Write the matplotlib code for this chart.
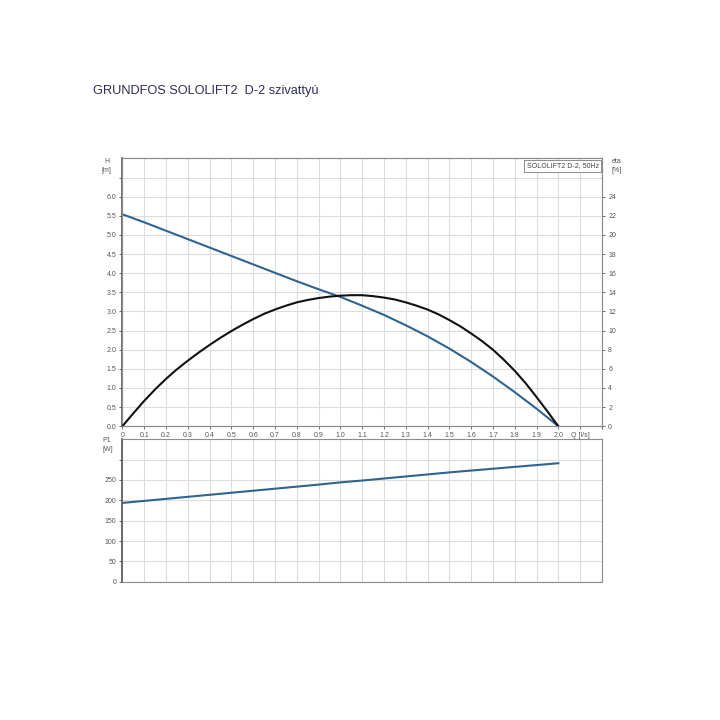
import numpy as np
import matplotlib
matplotlib.use('Agg')
from matplotlib import pyplot as plt

plt.rcParams['font.family'] = ['Liberation Sans', 'DejaVu Sans']

# Flow points [l/s]
q = [0.0, 0.1, 0.2, 0.3, 0.4, 0.5, 0.6, 0.7, 0.8, 0.9, 1.0,
     1.1, 1.2, 1.3, 1.4, 1.5, 1.6, 1.7, 1.8, 1.9, 2.0]
# Head [m]
head = [5.54, 5.33, 5.11, 4.89, 4.67, 4.45, 4.23, 4.01, 3.79, 3.58, 3.38,
        3.15, 2.91, 2.64, 2.35, 2.03, 1.68, 1.30, 0.89, 0.46, 0.0]
# Power input [W]
p1 = [193.6, 198.5, 203.5, 208.5, 213.5, 218.5, 223.5, 228.5, 233.5, 238.5, 244.0,
      248.5, 253.5, 258.5, 263.5, 268.5, 273.0, 277.5, 282.0, 286.5, 291.0]

# Efficiency curve, read at a finer step [l/s] / [%]
q_eta = [0.0, 0.05, 0.1, 0.15, 0.2, 0.25, 0.3, 0.35, 0.4, 0.45, 0.5,
         0.55, 0.6, 0.65, 0.7, 0.75, 0.8, 0.85, 0.9, 0.95, 1.0,
         1.05, 1.1, 1.15, 1.2, 1.25, 1.3, 1.35, 1.4, 1.45, 1.5,
         1.55, 1.6, 1.65, 1.7, 1.75, 1.8, 1.85, 1.9, 1.95, 2.0]
eta = [0.0, 1.35, 2.65, 3.85, 4.95, 5.95, 6.85, 7.7, 8.5, 9.25, 9.95,
       10.6, 11.2, 11.75, 12.2, 12.6, 12.95, 13.2, 13.4, 13.55, 13.65,
       13.7, 13.7, 13.6, 13.45, 13.25, 12.95, 12.6, 12.2, 11.7, 11.1,
       10.45, 9.7, 8.9, 8.0, 6.95, 5.8, 4.5, 3.05, 1.55, 0.0]

q_labels = ['0'] + ['%.1f' % (0.1 * i) for i in range(1, 21)] + ['Q [l/s]', '']

BLUE = '#2f6491'
GRID = '#dcdcdc'
SPINE = '#8c8c8c'
TXT = '#555555'
FS = 5

fig = plt.figure(figsize=(7.2, 7.2), dpi=100)
fig.text(0.129, 0.869, 'GRUNDFOS SOLOLIFT2  D-2 szivattyú', fontsize=9.2,
         color='#2c2c5a')

ax = fig.add_axes([0.170, 0.408, 0.666, 0.372])
ax2 = ax.twinx()
ax.set_xlim(0, 2.2)
ax.set_ylim(0, 7.0)
ax2.set_ylim(0, 28)

ax.set_xticks(np.arange(0, 2.21, 0.1))
ax.set_xticklabels(q_labels)
ax.set_yticks(np.arange(0, 7.0, 0.5))
ax.set_yticklabels(['%.1f' % v for v in np.arange(0, 6.01, 0.5)] + [''])
ax2.set_yticks(np.arange(0, 25, 2))
ax.grid(True, color=GRID, lw=0.8)
ax.set_axisbelow(True)

ax.plot(q, head, color=BLUE, lw=1.5, zorder=3)
ax2.plot(q_eta, eta, color='#111111', lw=1.5, zorder=3)

for a in (ax, ax2):
    for s in a.spines.values():
        s.set_color(SPINE)
    a.tick_params(labelsize=FS, colors=TXT, length=2, width=0.6, pad=2.5)
ax.spines['left'].set_color('#555555')
ax.spines['left'].set_linewidth(1.2)

ax.text(-0.072, 7.0, 'H\n[m]', fontsize=FS, color=TXT, va='top', ha='center',
        linespacing=1.3)
ax2.text(2.243, 28, 'eta\n[%]', fontsize=FS, color=TXT, va='top', ha='left',
         linespacing=1.3)
ax.text(2.185, 6.9, 'SOLOLIFT2 D-2, 50Hz', fontsize=FS, color='#444444',
        ha='right', va='top',
        bbox=dict(boxstyle='square,pad=0.35', fc='white', ec=SPINE, lw=0.7))

bx = fig.add_axes([0.170, 0.192, 0.666, 0.198])
bx.set_xlim(0, 2.2)
bx.set_ylim(0, 350)
bx.set_xticks(np.arange(0, 2.21, 0.1))
bx.set_xticklabels([])
bx.set_yticks(np.arange(0, 301, 50))
bx.set_yticklabels([str(v) for v in range(0, 251, 50)] + [''])
bx.tick_params(labelsize=FS, colors=TXT, length=2, width=0.6, pad=2.5,
               bottom=False)
bx.grid(True, color=GRID, lw=0.8)
bx.set_axisbelow(True)
bx.plot(q, p1, color=BLUE, lw=1.5, zorder=3)
for s in bx.spines.values():
    s.set_color(SPINE)
bx.spines['left'].set_color('#555555')
bx.spines['left'].set_linewidth(1.2)
bx.text(-0.093, 355, 'P1\n[W]', fontsize=FS, color=TXT, va='top', ha='left',
        linespacing=1.3)

fig.savefig('out.png', dpi=100, facecolor='white')
